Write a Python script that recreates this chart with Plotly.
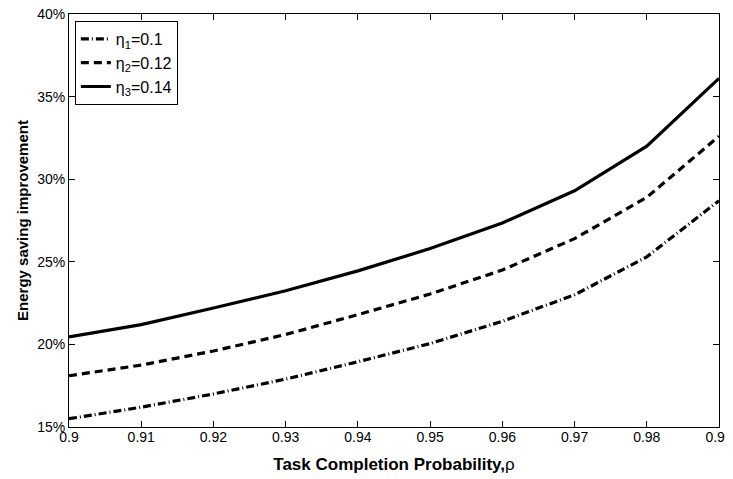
import plotly.graph_objects as go

rho = [0.90, 0.91, 0.92, 0.93, 0.94, 0.95, 0.96, 0.97, 0.98, 0.99]
eta1 = [15.5, 16.2, 17.0, 17.9, 18.95, 20.05, 21.4, 23.0, 25.3, 28.7]
eta2 = [18.1, 18.75, 19.6, 20.6, 21.8, 23.05, 24.5, 26.4, 28.9, 32.6]
eta3 = [20.45, 21.2, 22.2, 23.25, 24.45, 25.8, 27.35, 29.3, 32.0, 36.1]
names = ["η<sub>1</sub>=0.1", "η<sub>2</sub>=0.12", "η<sub>3</sub>=0.14"]
xticks = [0.90, 0.91, 0.92, 0.93, 0.94, 0.95, 0.96, 0.97, 0.98, 0.99]
xticklabels = ["0.9", "0.91", "0.92", "0.93", "0.94", "0.95", "0.96", "0.97", "0.98", "0.99"]
yticks = [15, 20, 25, 30, 35, 40]
yticklabels = ["15%", "20%", "25%", "30%", "35%", "40%"]

fig = go.Figure()
styles = ["8px,3px,1px,3px", "8px,5px", "solid"]
for ys, nm, ds in zip([eta1, eta2, eta3], names, styles):
    fig.add_trace(go.Scatter(x=rho, y=ys, mode="lines", name=nm,
                             line=dict(color="black", width=3.2, dash=ds)))

font = "Liberation Sans"
fig.update_layout(
    width=725, height=471,
    margin=dict(l=61, r=14, t=6, b=52),
    paper_bgcolor="white", plot_bgcolor="white",
    font=dict(family=font, size=14, color="black"),
    showlegend=True,
    legend=dict(x=0.009, y=0.983, xanchor="left", yanchor="top",
                bordercolor="black", borderwidth=1, bgcolor="white",
                font=dict(family=font, size=16), tracegroupgap=0),
    xaxis=dict(range=[0.9, 0.99], tickmode="array", tickvals=xticks, ticktext=xticklabels,
               showline=True, linecolor="black", linewidth=1, mirror="ticks",
               ticks="inside", ticklen=6, tickcolor="black", showgrid=False,
               zeroline=False, tickfont=dict(family=font, size=14), automargin=False,
               ticklabelstandoff=-3, ticklabeloverflow="allow",
               title=dict(text="<b>Task Completion Probability,</b>ρ",
                          font=dict(family=font, size=17), standoff=14)),
    yaxis=dict(range=[15, 40], tickmode="array", tickvals=yticks, ticktext=yticklabels,
               showline=True, linecolor="black", linewidth=1, mirror="ticks",
               ticks="inside", ticklen=6, tickcolor="black", showgrid=False,
               zeroline=False, tickfont=dict(family=font, size=14), automargin=False,
               ticklabeloverflow="allow",
               title=dict(text="<b>Energy saving improvement</b>",
                          font=dict(family=font, size=15), standoff=4)),
)
fig.write_html("out.html")
